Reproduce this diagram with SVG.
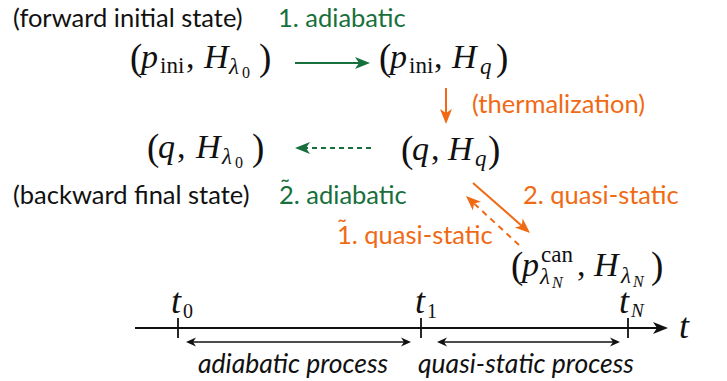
<svg xmlns="http://www.w3.org/2000/svg" width="727" height="381" viewBox="0 0 727 381">
<style>
.lbl{font-family:Lato,"Open Sans","Liberation Sans",sans-serif;font-size:25.5px;fill:#111}
.it{font-style:italic;font-size:26.5px}
.g{fill:#17703b}
.o{fill:#f06a14}
.m{font-family:"Liberation Serif","DejaVu Serif",serif;font-size:34px;fill:#111}
.mi{font-style:italic}
.s{font-size:23px}
.ss{font-size:16px}
.par{font-size:37px}
.tl{font-family:"Liberation Serif","DejaVu Serif",serif;font-style:italic;fill:#111}
.ts{font-family:"Liberation Serif","DejaVu Serif",serif;font-size:20px;fill:#111}
</style>
<defs>
<marker id="hg" viewBox="-16 -7 17 14" refX="-10" refY="0" markerWidth="17" markerHeight="14" markerUnits="userSpaceOnUse" orient="auto"><path d="M0,0 L-15,-6 L-11,0 L-15,6 Z" fill="#17703b"/></marker>
<marker id="ho" viewBox="-16 -7 17 14" refX="-10" refY="0" markerWidth="17" markerHeight="14" markerUnits="userSpaceOnUse" orient="auto"><path d="M0,0 L-15,-6 L-11,0 L-15,6 Z" fill="#f06a14"/></marker>
<marker id="hk" viewBox="-16 -7 17 14" refX="-10" refY="0" markerWidth="17" markerHeight="14" markerUnits="userSpaceOnUse" orient="auto"><path d="M0,0 L-15,-6 L-11,0 L-15,6 Z" fill="#111"/></marker>
<marker id="hs" viewBox="-11 -5 12 10" refX="-6" refY="0" markerWidth="12" markerHeight="10" markerUnits="userSpaceOnUse" orient="auto-start-reverse"><path d="M0,0 L-10,-4.5 L-7,0 L-10,4.5 Z" fill="#111"/></marker>
</defs>

<g id="label-forward"><text class="lbl" x="13" y="27">(forward initial state)</text></g>
<g id="label-backward"><text class="lbl" x="13" y="204">(backward final state)</text></g>

<g id="node-pini-Hl0">
<text class="m par" x="130" y="70">(</text>
<text class="m mi" x="141" y="68">p</text>
<text class="m s" x="160" y="73">ini</text>
<text class="m" x="186" y="68">,</text>
<text class="m mi" x="204" y="68">H</text>
<text class="m mi s" x="229" y="74">λ</text>
<text class="m ss" x="242" y="78">0</text>
<text class="m par" x="259" y="70">)</text>
</g>

<g id="node-pini-Hq">
<text class="m par" x="379" y="70">(</text>
<text class="m mi" x="390" y="68">p</text>
<text class="m s" x="409" y="73">ini</text>
<text class="m" x="434" y="68">,</text>
<text class="m mi" x="452" y="68">H</text>
<text class="m mi s" x="480" y="74">q</text>
<text class="m par" x="496" y="70">)</text>
</g>

<g id="node-q-Hl0">
<text class="m par" x="147" y="160">(</text>
<text class="m mi" x="158" y="158">q</text>
<text class="m" x="177" y="158">,</text>
<text class="m mi" x="196" y="158">H</text>
<text class="m mi s" x="222" y="164">λ</text>
<text class="m ss" x="235" y="168">0</text>
<text class="m par" x="252" y="160">)</text>
</g>

<g id="node-q-Hq">
<text class="m par" x="401" y="162">(</text>
<text class="m mi" x="412" y="160">q</text>
<text class="m" x="431" y="160">,</text>
<text class="m mi" x="448" y="160">H</text>
<text class="m mi s" x="475" y="166">q</text>
<text class="m par" x="488" y="162">)</text>
</g>

<g id="node-pcan-HlN">
<text class="m par" x="511" y="278">(</text>
<text class="m mi" x="522" y="276">p</text>
<text class="m s" x="541" y="262">can</text>
<text class="m mi s" x="540" y="284">λ</text>
<text class="m mi ss" x="552" y="288">N</text>
<text class="m" x="577" y="276">,</text>
<text class="m mi" x="594" y="276">H</text>
<text class="m mi s" x="621" y="283">λ</text>
<text class="m mi ss" x="633" y="287">N</text>
<text class="m par" x="651" y="278">)</text>
</g>

<g id="connectors" fill="none" stroke-width="2">
<line x1="295" y1="63" x2="360" y2="63" stroke="#17703b" marker-end="url(#hg)"/>
<line x1="371" y1="148" x2="305" y2="148" stroke="#17703b" stroke-dasharray="5,4" marker-end="url(#hg)"/>
<line x1="446" y1="88" x2="446" y2="114" stroke="#f06a14" marker-end="url(#ho)"/>
<line x1="473" y1="183" x2="522.5" y2="226.4" stroke="#f06a14" marker-end="url(#ho)"/>
<line x1="519" y1="245" x2="473.3" y2="202.8" stroke="#f06a14" stroke-dasharray="6,5" marker-end="url(#ho)"/>
</g>

<g id="edge-labels">
<text class="lbl g" x="278" y="27">1. adiabatic</text>
<text class="lbl o" x="472" y="113">(thermalization)</text>
<text class="lbl g" x="279" y="204">2. adiabatic</text>
<text class="lbl g" x="280" y="197">˜</text>
<text class="lbl o" x="523" y="204">2. quasi-static</text>
<text class="lbl o" x="337" y="244">1. quasi-static</text>
<text class="lbl o" x="337" y="237">˜</text>
</g>

<g id="timeline">
<line x1="135" y1="328" x2="658" y2="328" stroke="#111" stroke-width="1.8" marker-end="url(#hk)"/>
<g stroke="#111" stroke-width="1.8">
<line x1="178" y1="318" x2="178" y2="338"/>
<line x1="421" y1="318" x2="421" y2="338"/>
<line x1="628" y1="318" x2="628" y2="338"/>
</g>
<line x1="192" y1="342" x2="405" y2="342" stroke="#111" stroke-width="1.5" marker-start="url(#hs)" marker-end="url(#hs)"/>
<line x1="443" y1="342" x2="614" y2="342" stroke="#111" stroke-width="1.5" marker-start="url(#hs)" marker-end="url(#hs)"/>
<text class="tl" x="171" y="313" font-size="36">t</text>
<text class="ts" x="183" y="318">0</text>
<text class="tl" x="415" y="313" font-size="36">t</text>
<text class="ts" x="427" y="318">1</text>
<text class="tl" x="619" y="313" font-size="36">t</text>
<text class="tl" x="631" y="317" font-size="19">N</text>
<text class="tl" x="679" y="338" font-size="36">t</text>
<text class="lbl it" x="198" y="373">adiabatic process</text>
<text class="lbl it" x="418" y="373">quasi-static process</text>
</g>
</svg>
